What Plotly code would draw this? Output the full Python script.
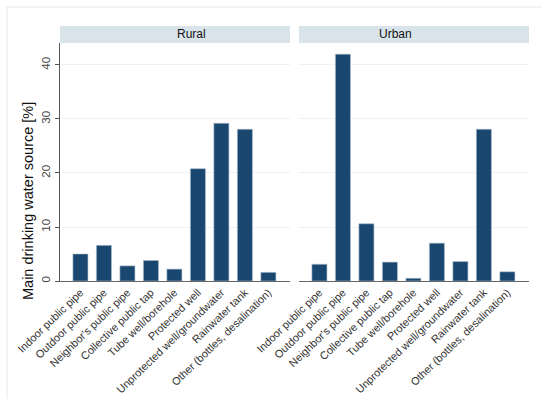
import plotly.graph_objects as go

categories = ["Indoor public pipe", "Outdoor public pipe", "Neighbor's public pipe",
              "Collective public tap", "Tube well/borehole", "Protected well",
              "Unprotected well/groundwater", "Rainwater tank",
              "Other (bottles, desalination)"]
rural = [5.0, 6.6, 2.8, 3.8, 2.2, 20.8, 29.2, 28.1, 1.6]
urban = [3.1, 42.0, 10.6, 3.5, 0.5, 7.0, 3.6, 28.1, 1.7]
panels = ["Rural", "Urban"]
y_ticks = [0, 10, 20, 30, 40]

W, H = 542, 399
ml, mr, mt, mb = 60, 13, 43, 118
pw = W - ml - mr
ph = H - mt - mb

bar_color = "#1a476f"
fig = go.Figure()
for i, vals in enumerate([rural, urban]):
    fig.add_trace(go.Bar(
        x=categories, y=vals, xaxis="x" if i == 0 else "x2", yaxis="y" if i == 0 else "y2",
        marker=dict(color=bar_color, line=dict(color="#a9bccb", width=0.6)),
        showlegend=False))

d1 = [0, 230 / pw]
d2 = [239 / pw, 1]
font = "Liberation Sans, Arial"
xcommon = dict(tickangle=-44, tickfont=dict(family=font, size=10.9, color="#333"),
               showline=True, linecolor="#666", linewidth=1, ticks="", showgrid=False,
               range=[-0.87, 8.92], fixedrange=True, automargin=False)
fig.update_layout(
    width=W, height=H, margin=dict(l=ml, r=mr, t=mt, b=mb, autoexpand=False),
    paper_bgcolor="white", plot_bgcolor="white", bargap=0.36,
    xaxis=dict(domain=d1, anchor="y", **xcommon),
    xaxis2=dict(domain=d2, anchor="y2", **xcommon),
    yaxis=dict(range=[0, 44.07], tickvals=y_ticks, tickangle=-90, showline=True, linecolor="#555",
               ticks="outside", ticklen=4, tickcolor="#555", gridcolor="#eef2f5", gridwidth=1,
               tickfont=dict(family=font, size=11.5, color="#444"), automargin=False,
               zeroline=False),
    yaxis2=dict(range=[0, 44.07], tickvals=y_ticks, showticklabels=False, anchor="x2",
                gridcolor="#eef2f5", gridwidth=1, zeroline=False, showline=False),
)

# y-axis title (centered lower, like the reference)
fig.add_annotation(text="Main drinking water source [%]", xref="paper", yref="paper",
                   x=(28 - ml) / pw, y=(H - mb - 201) / ph, textangle=-90, showarrow=False,
                   xanchor="center", yanchor="middle",
                   font=dict(family=font, size=14.5, color="#111"))

hh = 17 / ph
for d, name in zip([d1, d2], panels):
    fig.add_shape(type="rect", xref="paper", yref="paper", x0=d[0], x1=d[1], y0=1, y1=1 + hh,
                  fillcolor="#d9e4ea", line=dict(width=0), layer="below")
    fig.add_annotation(text=name, xref="paper", yref="paper", x=(d[0] + d[1]) / 2, y=1 + hh / 2,
                       showarrow=False, yanchor="middle",
                       font=dict(family=font, size=12, color="#111"))

# outer frame
fig.add_shape(type="rect", xref="paper", yref="paper",
              x0=(7 - ml) / pw, x1=(W + 5 - ml) / pw,
              y0=-(H + 5 - mt - ph) / ph, y1=1 + (mt - 7) / ph,
              line=dict(color="#e8e8e8", width=1), layer="below")

fig.write_html("out.html")
